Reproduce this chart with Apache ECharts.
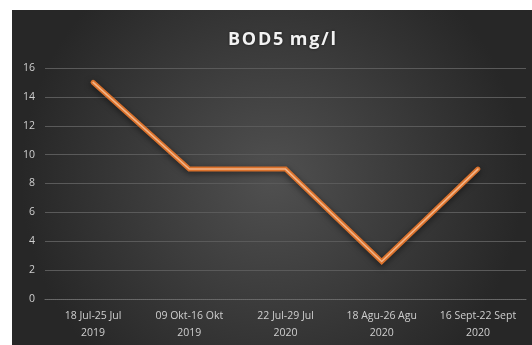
<!DOCTYPE html>
<html>
<head>
<meta charset="utf-8">
<script src="https://cdn.jsdelivr.net/npm/echarts@6/dist/echarts.min.js"></script>
<style>
  html, body { margin: 0; padding: 0; background: #ffffff; }
  #chart { width: 532px; height: 345px; }
</style>
</head>
<body>
<div id="chart"></div>
<script>
// Sampling periods and BOD5 readings (mg/l)
const periods = [
  '18 Jul-25 Jul\n2019',
  '09 Okt-16 Okt\n2019',
  '22 Jul-29 Jul\n2020',
  '18 Agu-26 Agu\n2020',
  '16 Sept-22 Sept\n2020'
];
const bod5 = [15, 9, 9, 2.6, 9];
const yTicks = [0, 2, 4, 6, 8, 10, 12, 14, 16];

const chart = echarts.init(document.getElementById('chart'), null, { renderer: 'canvas' });

chart.setOption({
  backgroundColor: '#ffffff',
  animation: false,
  graphic: [{
    type: 'rect',
    z: -10,
    silent: true,
    shape: { x: 12, y: 10, width: 520, height: 335 },
    style: {
      fill: new echarts.graphic.RadialGradient(0.5, 0.5, 0.75, [
        { offset: 0, color: '#505050' },
        { offset: 1, color: '#272727' }
      ])
    }
  }],
  title: {
    text: 'B O D 5  m g / l'.replace(/ (?! )/g, '\u200a'),
    left: 277,
    textAlign: 'center',
    top: 26,
    textStyle: {
      color: '#f2f2f2',
      fontFamily: 'Open Sans',
      fontWeight: 'bold',
      fontSize: 18,
      textShadowColor: 'rgba(0,0,0,0.6)',
      textShadowBlur: 3
    }
  },
  grid: { left: 45, right: 6, top: 68, bottom: 46 },
  xAxis: {
    type: 'category',
    data: periods,
    boundaryGap: true,
    axisLine: { show: true, lineStyle: { color: '#6a6a6a', type: 'dotted' } },
    axisTick: { show: false },
    axisLabel: {
      color: '#cfcfcf',
      fontFamily: 'Open Sans',
      fontSize: 10.5,
      lineHeight: 17,
      margin: 9,
      interval: 0
    }
  },
  yAxis: {
    type: 'value',
    min: yTicks[0],
    max: yTicks[yTicks.length - 1],
    interval: 2,
    axisLine: { show: false },
    axisTick: { show: false },
    axisLabel: {
      color: '#cfcfcf',
      fontFamily: 'Open Sans',
      fontSize: 10.5,
      margin: 10
    },
    splitLine: { lineStyle: { color: '#5a5a5a', width: 1 } }
  },
  series: [
    {
      type: 'line',
      data: bod5,
      symbol: 'none',
      lineStyle: {
        color: '#d9712c',
        width: 5,
        cap: 'round',
        join: 'miter',
        shadowColor: 'rgba(0,0,0,0.55)',
        shadowBlur: 6,
        shadowOffsetY: 2
      }
    },
    {
      type: 'line',
      data: bod5,
      symbol: 'none',
      silent: true,
      lineStyle: { color: '#f3b487', width: 1.6, cap: 'round', join: 'miter' }
    }
  ]
});
</script>
</body>
</html>
